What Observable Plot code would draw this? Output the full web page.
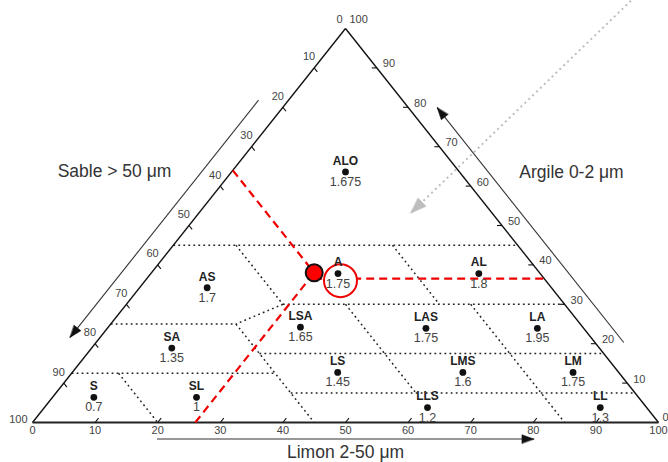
<!DOCTYPE html>
<html><head><meta charset="utf-8">
<script src="https://cdn.jsdelivr.net/npm/d3@7"></script>
<script src="https://cdn.jsdelivr.net/npm/@observablehq/plot@0.6"></script>
<style>body{margin:0;background:#fff}#chart{width:668px;height:462px}</style>
</head><body><div id="chart"></div>
<script>
// ---- data (ternary coordinates in %) ----
const classNames  = ["ALO","A","AL","AS","LSA","LAS","LA","SA","LS","LMS","LM","S","SL","LLS","LL"];
const classValues = ["1.675","1.75","1.8","1.7","1.65","1.75","1.95","1.35","1.45","1.6","1.75","0.7","1","1.2","1.3"];
const classSilt   = [18.2, 29.9, 52.4, 10.8, 30.7, 50.9, 68.7, 12.8, 42.4, 62.4, 80.0, 6.6, 23.0, 61.2, 88.8];
const classClay   = [63.6, 37.8, 37.8, 34.2, 24.2, 23.9, 23.9, 18.9, 12.7, 12.7, 12.7, 6.4, 6.4, 3.8, 3.8];

// class boundaries: [sand1, clay1, sand2, clay2]
const boundaries = [
  [55,45, 0,45], [45,45, 45,30], [20,45, 20,30], [45,30, 0,30],
  [45,30, 55,25], [75,25, 55,25], [55,25, 55,0], [87.5,12.5, 55,12.5],
  [80,12.5, 80,0], [55,17.5, 0,17.5], [35,30, 35,7.5], [15,30, 15,0], [55,7.5, 0,7.5]
];

const tickValues = [0,10,20,30,40,50,60,70,80,90,100];

// sample soil (sand, silt, clay)
const sample = {sand: 36, silt: 26, clay: 38};
const sampleClayLine = 36.5;
const highlight = {silt: 31.2, clay: 36};

// plot-space (x = silt + clay/2, y = clay)
const grayArrow = {x1: 98.7, y1: 111.8, x2: 60.4, y2: 53.1};
const axisArrows = [
  {x1: 36.1, y1: 81.8, x2: 6.0, y2: 21.6},    // sable
  {x1: 94.45, y1: 20.3, x2: 64.65, y2: 79.9}, // argile
  {x1: 19.9, y1: -4.2, x2: 80.1, y2: -4.2}    // limon
];
const axisTitles = [
  {x: 13.1, y: 63.8, t: "Sable > 50 μm"},
  {x: 86.1, y: 63.6, t: "Argile 0-2 μm"},
  {x: 50, y: -7.6, t: "Limon 2-50 μm"}
];

// ---- derived ----
const W = 668, H = 462, mL = 32, mR = 10, mT = 28, mB = 40;
const kx = (W - mL - mR) / 100, ky = (H - mT - mB) / 100;
const rot = (d) => Math.atan2((d.x2 - d.x1) * kx, (d.y2 - d.y1) * ky) * 180 / Math.PI;

const classes = classNames.map((name, i) => ({name, value: classValues[i], x: classSilt[i] + classClay[i] / 2, y: classClay[i]}));
const segs = boundaries.map(([s1, c1, s2, c2]) => ({x1: 100 - s1 - c1 / 2, y1: c1, x2: 100 - s2 - c2 / 2, y2: c2}));
const inner = tickValues.filter(v => v > 0 && v < 100);
const ticks = [
  ...inner.map(v => ({x1: v, y1: 0, x2: v + 0.55, y2: 1.1})),
  ...inner.map(v => ({x1: (100 - v) / 2, y1: 100 - v, x2: 1 + (99 - v) / 2, y2: 99 - v})),
  ...inner.map(v => ({x1: 100 - v / 2, y1: v, x2: 100 - 0.8 - v / 2, y2: v}))
];
const edges = [{x1: 0, y1: 0, x2: 50, y2: 100}, {x1: 50, y1: 100, x2: 100, y2: 0}];
const sx = sample.silt + sample.clay / 2, sy = sample.clay;
const redLines = [
  {x1: (100 - sample.sand) / 2, y1: 100 - sample.sand, x2: sx, y2: sy},
  {x1: sample.silt, y1: 0, x2: sx, y2: sy},
  {x1: sx, y1: sampleClayLine, x2: 100 - sampleClayLine / 2, y2: sampleClayLine}
];
const heads = [...axisArrows.map(d => ({x: d.x2, y: d.y2, r: rot(d), c: "#111", l: 9})),
               {x: grayArrow.x2, y: grayArrow.y2, r: rot(grayArrow), c: "#bdbdbd", l: 12}];
const headShape = {draw(ctx, l) { ctx.moveTo(0, -l); ctx.lineTo(-l * 0.36, 0); ctx.lineTo(l * 0.36, 0); ctx.closePath(); }};

const tickFont = {fontSize: 11, fill: "#444"};
const chart = Plot.plot({
  width: W, height: H, marginLeft: mL, marginRight: mR, marginTop: mT, marginBottom: mB,
  x: {domain: [0, 100], axis: null},
  y: {domain: [0, 100], axis: null},
  style: {fontFamily: "'Liberation Sans', Arial, sans-serif", background: "#fff", overflow: "visible"},
  marks: [
    Plot.link(segs, {x1: "x1", y1: "y1", x2: "x2", y2: "y2", stroke: "#222", strokeWidth: 1.5, strokeDasharray: "1.8,3.2"}),
    Plot.link(edges, {x1: "x1", y1: "y1", x2: "x2", y2: "y2", stroke: "#111", strokeWidth: 1.4}),
    Plot.link([{x1: 0, y1: 0, x2: 100, y2: 0}], {x1: "x1", y1: "y1", x2: "x2", y2: "y2", stroke: "#222", strokeWidth: 2}),
    Plot.link(ticks, {x1: "x1", y1: "y1", x2: "x2", y2: "y2", stroke: "#111", strokeWidth: 1.1}),
    Plot.link(axisArrows, {x1: "x1", y1: "y1", x2: "x2", y2: "y2", stroke: "#333", strokeWidth: 1.1, strokeLinecap: "butt"}),
    Plot.link([grayArrow], {x1: "x1", y1: "y1", x2: "x2", y2: "y2", stroke: "#bdbdbd", strokeWidth: 2, strokeDasharray: "2,3.4"}),
    Plot.vector(heads, {x: "x", y: "y", rotate: "r", length: "l", anchor: "end", shape: headShape, fill: "c", stroke: "c", strokeWidth: 0.5}),
    // tick labels
    Plot.text(tickValues, {x: d => d, y: 0, text: d => String(d), dy: 8, ...tickFont}),
    Plot.text(inner, {x: v => (100 - v) / 2, y: v => 100 - v, text: v => String(v), textAnchor: "end", dx: 1, dy: -11, ...tickFont}),
    Plot.text(["0"], {x: 50, y: 100, text: d => d, textAnchor: "end", dx: -3, dy: -9, ...tickFont}),
    Plot.text(["100"], {x: 0, y: 0, text: d => d, textAnchor: "end", dx: -5, dy: -3, ...tickFont}),
    Plot.text(inner, {x: v => 100 - v / 2, y: v => v, text: v => String(v), textAnchor: "start", dx: 6, dy: -4, ...tickFont}),
    Plot.text(["100"], {x: 50, y: 100, text: d => d, textAnchor: "start", dx: 4, dy: -9, ...tickFont}),
    Plot.text(["0"], {x: 100, y: 0, text: d => d, textAnchor: "start", dx: 4, dy: -5, ...tickFont}),
    // axis titles
    Plot.text(axisTitles, {x: "x", y: "y", text: "t", fontSize: 17.5, fill: "#333"}),
    // red construction
    Plot.link(redLines, {x1: "x1", y1: "y1", x2: "x2", y2: "y2", stroke: "#ee0000", strokeWidth: 2.2, strokeDasharray: "8,5"}),
    Plot.dot([highlight], {x: d => d.silt + d.clay / 2, y: "clay", r: 16.5, fill: "#fff", stroke: "#ee0000", strokeWidth: 2}),
    // classes
    Plot.dot(classes, {x: "x", y: "y", r: 3.4, fill: "#111"}),
    Plot.text(classes, {x: "x", y: "y", text: "name", dy: -11, fontSize: 12, fontWeight: "bold", fill: "#222"}),
    Plot.text(classes, {x: "x", y: "y", text: "value", dy: 10, fontSize: 12.5, fill: "#444"}),
    Plot.dot([sample], {x: d => d.silt + d.clay / 2, y: "clay", r: 8.5, fill: "#ff0000", stroke: "#111", strokeWidth: 2})
  ]
});
document.getElementById("chart").appendChild(chart);
</script>
</body></html>
